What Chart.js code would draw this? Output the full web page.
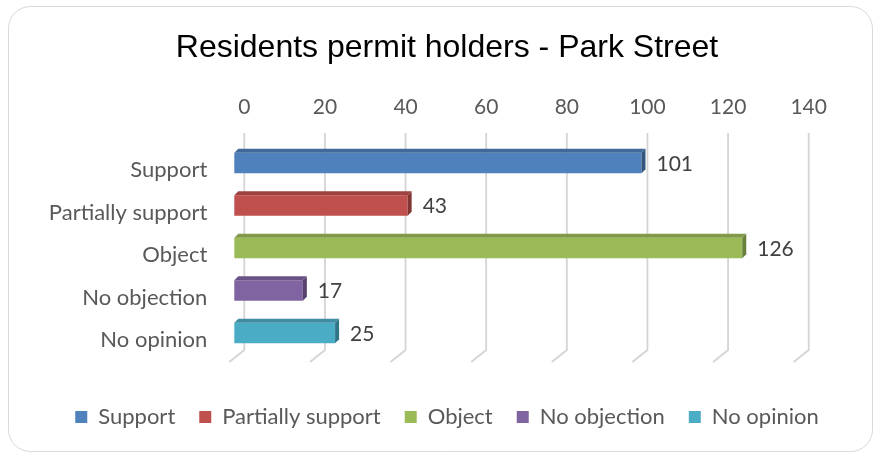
<!DOCTYPE html>
<html>
<head>
<meta charset="utf-8">
<script src="https://cdn.jsdelivr.net/npm/chart.js@4.4.0/dist/chart.umd.min.js"></script>
<style>
  body { margin: 0; background: #fff; }
</style>
</head>
<body>
<canvas id="myChart1" width="875" height="454"></canvas>
<script>
// residents permit holders - park street
var label1 = ['Support', 'Partially support', 'Object', 'No objection', 'No opinion'];
var data1 = [101, 43, 126, 17, 25];
var ticks1 = [0, 20, 40, 60, 80, 100, 120, 140];
var color1 = ['#4F81BD', '#C0504D', '#9BBB59', '#8064A2', '#4BACC6'];
var side1 = ['#35577F', '#823532', '#68803B', '#56436E', '#307587'];
var top1 = ['#41699A', '#9E413F', '#809A49', '#695285', '#3E8DA3'];

var font1 = 'Lato';
var depth = 4;      // bar extrusion
var frontX = -10;   // bars sit in front of the back wall
var frontY = -7;

// frame + 3d grid + bar faces + value labels
var look3d = {
    id: 'look3d',
    beforeDraw: function(chart) {
        var ctx = chart.ctx;
        ctx.save();
        ctx.fillStyle = '#fff';
        ctx.fillRect(0, 0, chart.width, chart.height);
        ctx.beginPath();
        ctx.roundRect(8.5, 6.5, 864, 445, 22);
        ctx.strokeStyle = '#d9d9d9';
        ctx.lineWidth = 1;
        ctx.stroke();
        ctx.restore();
    },
    beforeDatasetsDraw: function(chart) {
        var ctx = chart.ctx;
        var x = chart.scales.x;
        ctx.save();
        ctx.strokeStyle = '#d4d4d4';
        ctx.lineWidth = 1.8;
        ticks1.forEach(function(t) {
            var px = x.getPixelForValue(t);
            ctx.beginPath();
            ctx.moveTo(px, 133);
            ctx.lineTo(px, 350);
            ctx.lineTo(px - 15, 362);
            ctx.stroke();
        });
        ctx.restore();
        ctx.save();
        ctx.translate(frontX, frontY);
    },
    afterDatasetsDraw: function(chart) {
        var ctx = chart.ctx;
        var meta = chart.getDatasetMeta(0);
        meta.data.forEach(function(bar, i) {
            var p = bar.getProps(['x', 'y', 'base', 'height'], true);
            var t = p.y - p.height / 2;
            var b = p.y + p.height / 2;
            ctx.beginPath();
            ctx.moveTo(p.base, t);
            ctx.lineTo(p.x, t);
            ctx.lineTo(p.x + depth, t - depth);
            ctx.lineTo(p.base + depth, t - depth);
            ctx.closePath();
            ctx.fillStyle = top1[i];
            ctx.fill();
            ctx.beginPath();
            ctx.moveTo(p.x, t);
            ctx.lineTo(p.x + depth, t - depth);
            ctx.lineTo(p.x + depth, b - depth);
            ctx.lineTo(p.x, b);
            ctx.closePath();
            ctx.fillStyle = side1[i];
            ctx.fill();
            ctx.fillStyle = '#404040';
            ctx.font = '21px ' + font1;
            ctx.textBaseline = 'middle';
            ctx.textAlign = 'left';
            ctx.fillText(data1[i], p.x + depth + 11, p.y + 1);
        });
        ctx.restore();
    }
};

var ctx1 = document.getElementById('myChart1').getContext('2d');
var myChart1 = new Chart(ctx1, {
    type: 'bar',
    data: {
        labels: label1,
        datasets: [{
            data: data1,
            backgroundColor: color1,
            borderWidth: 0,
            categoryPercentage: 1,
            barPercentage: 0.48,
            clip: false
        }]
    },
    plugins: [look3d],
    options: {
        indexAxis: 'y',
        responsive: false,
        animation: false,
        layout: { padding: { left: 19, right: 0, top: 0, bottom: 16 } },
        scales: {
            x: {
                position: 'top',
                min: 0,
                max: 140,
                grid: { display: false, drawTicks: false },
                border: { display: false },
                ticks: { stepSize: 20, padding: 28.6, color: '#595959', font: { family: font1, size: 21 } },
                afterFit: function(s) { s.height = 81.35; }
            },
            y: {
                grid: { display: false, drawTicks: false },
                border: { display: false },
                ticks: { padding: 37, color: '#595959', font: { family: font1, size: 22 } },
                afterFit: function(s) { s.width = 225.3; }
            },
            y2: {
                type: 'linear',
                position: 'right',
                grid: { display: false, drawTicks: false },
                border: { display: false },
                ticks: { display: false },
                afterFit: function(s) { s.width = 66.3; }
            },
            x2: {
                type: 'linear',
                position: 'bottom',
                grid: { display: false, drawTicks: false },
                border: { display: false },
                ticks: { display: false },
                afterFit: function(s) { s.height = 20.75; }
            }
        },
        plugins: {
            title: {
                display: true,
                text: 'Residents permit holders - Park Street',
                color: '#000',
                font: { family: 'Liberation Sans', size: 32, weight: 'normal' },
                padding: { top: 29, bottom: 0 }
            },
            legend: {
                position: 'bottom',
                onClick: null,
                labels: {
                    boxWidth: 12,
                    boxHeight: 12,
                    padding: 24,
                    color: '#595959',
                    font: { family: font1, size: 22 },
                    generateLabels: function() {
                        return label1.map(function(l, i) {
                            return { text: l, fillStyle: color1[i], strokeStyle: color1[i], lineWidth: 0, hidden: false, index: i, fontColor: '#595959' };
                        });
                    }
                }
            },
            tooltip: { enabled: false }
        }
    }
});
</script>
</body>
</html>
